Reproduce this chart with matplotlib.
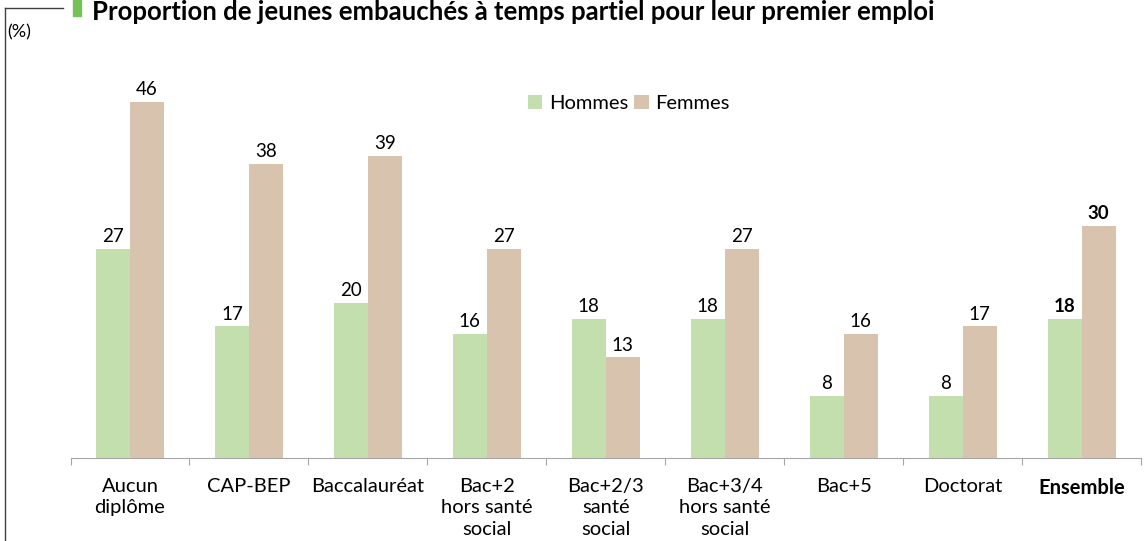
import matplotlib
matplotlib.use("Agg")
import matplotlib.pyplot as plt
import numpy as np

categories = ["Aucun\ndiplôme", "CAP-BEP", "Baccalauréat", "Bac+2\nhors santé\nsocial",
              "Bac+2/3\nsanté\nsocial", "Bac+3/4\nhors santé\nsocial", "Bac+5", "Doctorat", "Ensemble"]
hommes = [27, 17, 20, 16, 18, 18, 8, 8, 18]
femmes = [46, 38, 39, 27, 13, 27, 16, 17, 30]
series_names = ["Hommes", "Femmes"]
title = "Proportion de jeunes embauchés à temps partiel pour leur premier emploi"

c_h = "#C4DFAE"
c_f = "#D8C3AE"
font = ["Lato", "DejaVu Sans"]
plt.rcParams["font.family"] = font

W, H = 1147, 541
fig = plt.figure(figsize=(W / 100, H / 100), dpi=100)

# axes in pixel coordinates
x0, x1 = 70.5, 1141
ybot, ytop = 458, 71
ax = fig.add_axes([x0 / W, 1 - ybot / H, (x1 - x0) / W, (ybot - ytop) / H])

n = len(categories)
x = np.arange(n)
bw = 34 / 119
ax.bar(x - bw / 2, hommes, bw, color=c_h, label=series_names[0])
ax.bar(x + bw / 2, femmes, bw, color=c_f, label=series_names[1])
ax.set_xlim(-0.5, n - 0.5)
ax.set_ylim(0, 50)

for i in range(n):
    w = "bold" if i == n - 1 else "normal"
    ax.text(x[i] - bw / 2, hommes[i] + 0.5, str(hommes[i]), ha="center", va="bottom",
            fontsize=13.5, fontweight=w)
    ax.text(x[i] + bw / 2, femmes[i] + 0.5, str(femmes[i]), ha="center", va="bottom",
            fontsize=13.5, fontweight=w)

for s in ["top", "right", "left"]:
    ax.spines[s].set_visible(False)
ax.spines["bottom"].set_color("#A6A6A6")
ax.set_yticks([])
ax.set_xticks(np.arange(-0.5, n, 1.0))
ax.set_xticklabels([])
ax.tick_params(axis="x", direction="out", length=5, color="#A6A6A6")
for i, c in enumerate(categories):
    ax.text(x[i], -2.6, c, ha="center", va="top", fontsize=14.5,
            fontweight="bold" if i == n - 1 else "normal", linespacing=1.3)

leg = ax.legend(loc="upper left", bbox_to_anchor=((528 - x0) / (x1 - x0), (ybot - 95) / (ybot - ytop)),
                ncol=2, frameon=False, fontsize=14.5, handlelength=0.7, handleheight=0.7,
                columnspacing=0.3, handletextpad=0.35, borderaxespad=0, borderpad=0)

# frame corner and title
fig.add_artist(plt.Line2D([5 / W, 5 / W], [1 - 8 / H, 0], color="#404040", lw=1))
fig.add_artist(plt.Line2D([5 / W, 63 / W], [1 - 8 / H, 1 - 8 / H], color="#404040", lw=1))
fig.text(7 / W, 1 - 32 / H, "(%)", fontsize=13, va="center", ha="left")
fig.add_artist(plt.Rectangle((73 / W, 1 - 16 / H), 8 / W, 16 / H, color="#77C159",
                             transform=fig.transFigure))
fig.text(92 / W, 1 - 12 / H, title, fontsize=18.5, fontweight="bold", va="center", ha="left")

fig.savefig("out.png", dpi=100)
